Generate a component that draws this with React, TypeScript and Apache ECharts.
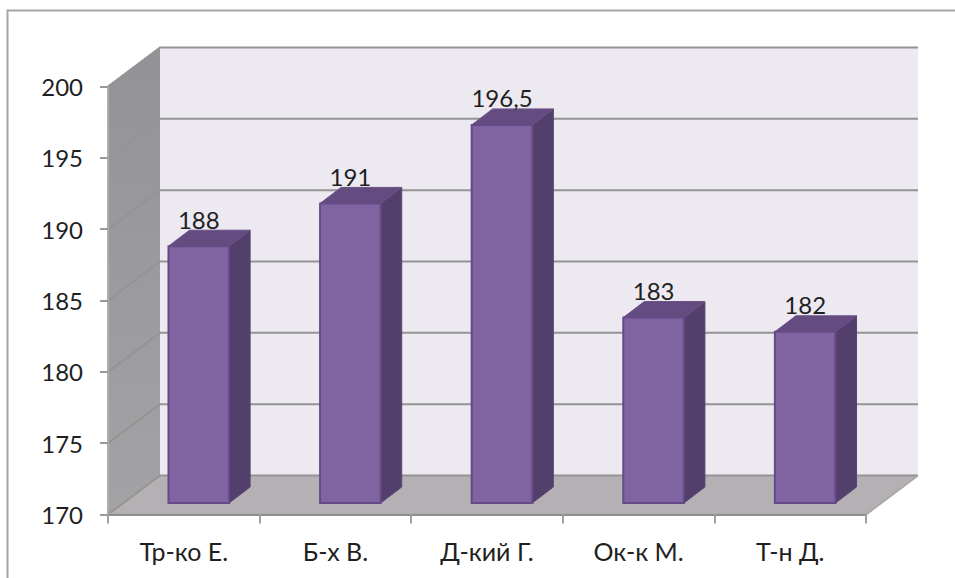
import React, { useEffect, useRef } from "react";
import * as echarts from "echarts";

const categories = ["Тр-ко Е.", "Б-х В.", "Д-кий Г.", "Ок-к М.", "Т-н Д."];
const heights = [188, 191, 196.5, 183, 182];
const valueLabels = ["188", "191", "196,5", "183", "182"];
const gridValues = [170, 175, 180, 185, 190, 195, 200];

const FONT = "Lato, Carlito, 'Open Sans', sans-serif";
const TEXT = "#1F1F1F";
const DEPTH_X = 52;
const DEPTH_Y = -39;
const BAR_DEPTH_X = 21;
const BAR_DEPTH_Y = -16;
const BAR_SHIFT_X = 15;
const BAR_SHIFT_Y = -11.5;

// Box walls and floor of the pseudo-3D plot, with gridlines on the walls.
function renderWalls(params: any, api: any) {
  const cs = params.coordSys;
  const x0 = cs.x;
  const x1 = cs.x + cs.width;
  const yLow = api.coord([0, 170])[1];
  const yHigh = api.coord([0, 200])[1];
  const children: any[] = [
    {
      type: "polygon",
      shape: {
        points: [
          [x0 + DEPTH_X, yHigh + DEPTH_Y],
          [x1 + DEPTH_X, yHigh + DEPTH_Y],
          [x1 + DEPTH_X, yLow + DEPTH_Y],
          [x0 + DEPTH_X, yLow + DEPTH_Y],
        ],
      },
      style: { fill: "#ECE9F1" },
    },
    {
      type: "polygon",
      shape: {
        points: [
          [x0, yHigh],
          [x0 + DEPTH_X, yHigh + DEPTH_Y],
          [x0 + DEPTH_X, yLow + DEPTH_Y],
          [x0, yLow],
        ],
      },
      style: {
        fill: new echarts.graphic.LinearGradient(0, 0, 0, 1, [
          { offset: 0, color: "#939296" },
          { offset: 1, color: "#A3A2A5" },
        ]),
      },
    },
    {
      type: "polygon",
      shape: {
        points: [
          [x0, yLow],
          [x1, yLow],
          [x1 + DEPTH_X, yLow + DEPTH_Y],
          [x0 + DEPTH_X, yLow + DEPTH_Y],
        ],
      },
      style: { fill: "#B4B0B4" },
    },
  ];
  gridValues.forEach((v) => {
    const y = api.coord([0, v])[1];
    children.push({
      type: "polyline",
      shape: {
        points: [
          [x0, y],
          [x0 + DEPTH_X, y + DEPTH_Y],
          [x1 + DEPTH_X, y + DEPTH_Y],
        ],
      },
      style: { fill: "none", stroke: "#949494", lineWidth: 2 },
    });
  });
  children.push({
    type: "polyline",
    shape: {
      points: [
        [x0, yLow],
        [x1, yLow],
        [x1 + DEPTH_X, yLow + DEPTH_Y],
      ],
    },
    style: { fill: "none", stroke: "#A8A8A8", lineWidth: 2 },
  });
  children.push({
    type: "line",
    shape: { x1: x0, y1: yHigh, x2: x0, y2: yLow },
    style: { stroke: "#AEAEAE", lineWidth: 2 },
  });
  return { type: "group", children };
}

// One prism per category: front face, side face, top face and the value text.
function renderBar(params: any, api: any) {
  const idx = api.value(0);
  const val = api.value(1);
  const [cx, top] = api.coord([idx, val]);
  const base = api.coord([idx, 170])[1];
  const w = api.size([1, 0])[0] * 0.4;
  const l = cx + BAR_SHIFT_X - w / 2;
  const r = l + w;
  const t = top + BAR_SHIFT_Y;
  const b = base + BAR_SHIFT_Y;
  const edge = "#644A86";
  return {
    type: "group",
    children: [
      {
        type: "polygon",
        shape: {
          points: [
            [r, t],
            [r + BAR_DEPTH_X, t + BAR_DEPTH_Y],
            [r + BAR_DEPTH_X, b + BAR_DEPTH_Y],
            [r, b],
          ],
        },
        style: { fill: "#533F6B", stroke: "#5A4474", lineWidth: 1 },
      },
      {
        type: "polygon",
        shape: {
          points: [
            [l, t],
            [l + BAR_DEPTH_X, t + BAR_DEPTH_Y],
            [r + BAR_DEPTH_X, t + BAR_DEPTH_Y],
            [r, t],
          ],
        },
        style: { fill: "#644C80", stroke: "#6A5087", lineWidth: 1 },
      },
      {
        type: "rect",
        shape: { x: l, y: t, width: w, height: b - t },
        style: { fill: "#8064A2", stroke: edge, lineWidth: 2 },
      },
      {
        type: "text",
        x: cx + BAR_SHIFT_X,
        y: t - 27,
        style: {
          text: valueLabels[idx],
          fill: TEXT,
          font: `24px ${FONT}`,
          textAlign: "center",
          textVerticalAlign: "middle",
        },
      },
    ],
  };
}

export default function App() {
  const ref = useRef<HTMLDivElement>(null);
  useEffect(() => {
    const chart = echarts.init(ref.current!, undefined, { renderer: "svg" });
    chart.setOption({
      animation: false,
      backgroundColor: "#FFFFFF",
      textStyle: { fontFamily: FONT },
      graphic: [
        {
          type: "polyline",
          silent: true,
          shape: {
            points: [
              [7.5, 578],
              [7.5, 10.5],
              [955, 10.5],
            ],
          },
          style: { fill: "none", stroke: "#A6A6A6", lineWidth: 2 },
        },
      ],
      grid: { left: 108, top: 86.5, width: 758, height: 428, containLabel: false },
      xAxis: {
        type: "category",
        data: categories,
        z: 5,
        axisLine: { show: true, lineStyle: { color: "#8E8E8E", width: 2 } },
        axisTick: {
          show: true,
          alignWithLabel: false,
          length: 9,
          lineStyle: { color: "#A0A0A0", width: 2 },
        },
        axisLabel: { color: TEXT, fontSize: 25, fontFamily: FONT, margin: 24 },
      },
      yAxis: {
        type: "value",
        min: 170,
        max: 200,
        interval: 5,
        z: 5,
        splitLine: { show: false },
        axisLine: { show: false },
        axisTick: {
          show: true,
          length: 8,
          lineStyle: { color: "#9A9A9A", width: 2 },
        },
        axisLabel: { color: TEXT, fontSize: 24, fontFamily: FONT, margin: 25 },
      },
      series: [
        {
          type: "custom",
          z: 1,
          silent: true,
          clip: false,
          data: [[0, 170]],
          renderItem: renderWalls,
        },
        {
          type: "custom",
          z: 2,
          silent: true,
          clip: false,
          data: heights.map((h, i) => [i, h]),
          encode: { x: 0, y: 1 },
          renderItem: renderBar,
        },
      ],
    });
    return () => chart.dispose();
  }, []);
  return (
    <div
      ref={ref}
      style={{ position: "absolute", left: 0, top: 0, width: 955, height: 578 }}
    />
  );
}
